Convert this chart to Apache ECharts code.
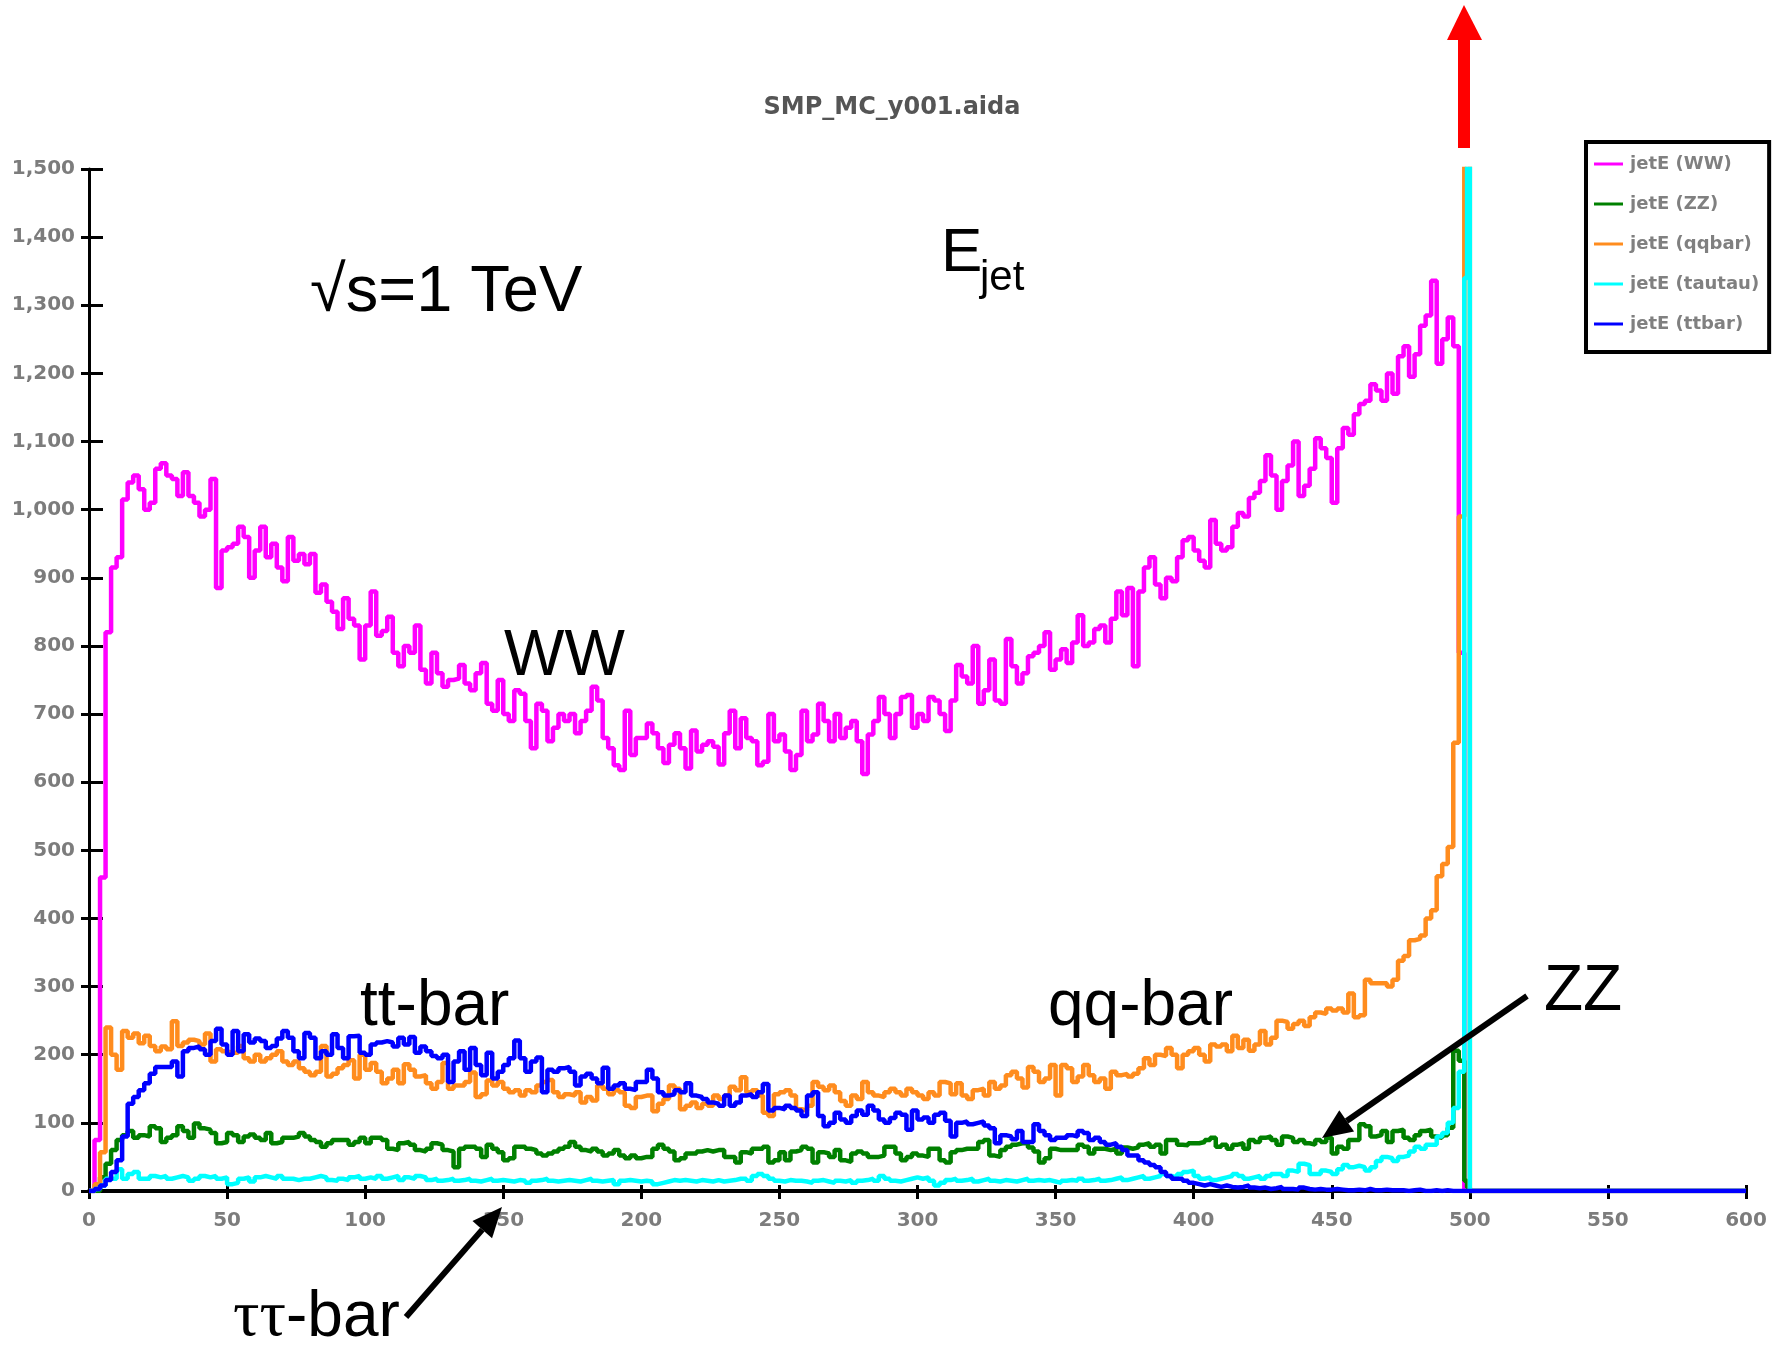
<!DOCTYPE html>
<html><head><meta charset="utf-8">
<script src="https://cdn.jsdelivr.net/npm/echarts@6/dist/echarts.min.js"></script>
<style>html,body{margin:0;padding:0;background:#fff}#c{width:1783px;height:1349px}</style>
</head><body><div id="c"></div>
<script>
// Bin left edges (GeV): 2 GeV bins 0..498, then 1 GeV bins 498,499; histogram closes at 500
const binEdges = Array.from({length: 250}, (_, i) => 2 * i).concat([499]);
const seriesNames = ['jetE (WW)', 'jetE (ZZ)', 'jetE (qqbar)', 'jetE (tautau)', 'jetE (ttbar)'];
const seriesColors = ['#FF00FF', '#008000', '#FF8C1E', '#00FFFF', '#0000FF'];
const xTicks = [0, 50, 100, 150, 200, 250, 300, 350, 400, 450, 500, 550, 600];
const yTicks = [0, 100, 200, 300, 400, 500, 600, 700, 800, 900, 1000, 1100, 1200, 1300, 1400, 1500];

const wwCounts = [
  0, 75, 460, 820, 915, 930, 1015, 1040, 1050, 1030,
  1000, 1010, 1060, 1068, 1050, 1045, 1020, 1055, 1020, 1010,
  990, 1000, 1045, 885, 940, 945, 950, 975, 960, 900,
  940, 975, 930, 950, 915, 895, 960, 925, 935, 920,
  935, 878, 890, 865, 850, 825, 870, 840, 830, 780,
  830, 880, 815, 822, 843, 790, 770, 800, 790, 830,
  765, 745, 790, 760, 740, 750, 752, 772, 745, 735,
  760, 775, 715, 705, 750, 700, 690, 735, 730, 690,
  650, 715, 705, 660, 680, 700, 690, 700, 672, 690,
  705, 740, 720, 665, 650, 625, 618, 705, 640, 665,
  665, 686, 672, 650, 628, 655, 672, 650, 620, 676,
  645, 655, 660, 652, 626, 672, 705, 650, 694, 665,
  660, 625, 630, 700, 660, 670, 645, 618, 640, 705,
  660, 670, 715, 690, 660, 700, 665, 680, 690, 660,
  612, 670, 690, 725, 700, 665, 700, 725, 728, 680,
  700, 690, 725, 720, 700, 675, 720, 772, 755, 745,
  800, 715, 735, 780, 720, 715, 810, 770, 745, 760,
  785, 790, 800, 820, 765, 780, 795, 775, 805, 845,
  800, 805, 825, 830, 805, 840, 880, 845, 885, 770,
  880, 915, 930, 890, 870, 900, 895, 930, 955, 960,
  940, 925, 915, 985, 950, 940, 945, 975, 995, 990,
  1017, 1025, 1042, 1080, 1050, 1000, 1042, 1065, 1100, 1020,
  1035, 1060, 1105, 1090, 1076, 1010, 1090, 1120, 1110, 1140,
  1155, 1160, 1184, 1175, 1160, 1200, 1170, 1225, 1240, 1195,
  1228, 1270, 1285, 1336, 1214, 1250, 1282, 1240, 790, 0, 0
];
const zzCounts = [
  0, 0, 20, 40, 60, 75, 82, 88, 78, 82,
  80, 95, 92, 72, 78, 82, 95, 88, 78, 99,
  92, 90, 85, 70, 72, 85, 82, 72, 80, 83,
  78, 75, 85, 70, 72, 78, 78, 80, 85, 80,
  75, 72, 65, 70, 75, 75, 75, 68, 72, 78,
  70, 78, 78, 75, 62, 60, 70, 72, 68, 60,
  58, 62, 70, 68, 60, 58, 35, 62, 65, 65,
  62, 50, 68, 62, 57, 45, 48, 65, 65, 62,
  60, 55, 52, 55, 58, 62, 65, 72, 65, 60,
  58, 62, 58, 52, 55, 60, 52, 48, 52, 48,
  50, 50, 62, 68, 62, 58, 45, 48, 55, 55,
  58, 60, 58, 60, 60, 50, 50, 42, 57, 55,
  62, 62, 65, 42, 45, 57, 45, 58, 60, 65,
  62, 42, 57, 55, 50, 60, 45, 43, 55, 58,
  55, 50, 50, 52, 65, 65, 55, 45, 50, 55,
  52, 50, 62, 62, 45, 42, 57, 60, 62, 62,
  62, 72, 75, 52, 50, 60, 65, 68, 70, 70,
  64, 58, 42, 48, 62, 60, 60, 60, 60, 68,
  65, 55, 62, 62, 60, 62, 55, 64, 62, 64,
  68, 70, 65, 68, 55, 75, 75, 68, 67, 70,
  70, 72, 75, 78, 65, 68, 62, 68, 70, 62,
  75, 72, 78, 80, 75, 68, 80, 78, 72, 75,
  70, 68, 75, 72, 78, 55, 65, 62, 75, 75,
  98, 95, 80, 82, 88, 72, 88, 90, 78, 75,
  82, 88, 90, 80, 78, 82, 93, 206, 191, 15, 5
];
const qqCounts = [
  0, 10, 57, 240, 200, 178, 235, 225, 231, 217,
  228, 213, 205, 212, 208, 249, 213, 218, 222, 220,
  215, 231, 190, 208, 205, 203, 203, 213, 195, 190,
  200, 190, 195, 200, 205, 190, 185, 190, 180, 175,
  170, 175, 213, 168, 172, 180, 185, 192, 165, 200,
  178, 188, 175, 158, 165, 178, 158, 186, 178, 168,
  170, 158, 150, 160, 188, 150, 155, 155, 160, 174,
  138, 142, 162, 155, 160, 150, 145, 148, 140, 148,
  145, 155, 160, 163, 145, 138, 142, 140, 145, 130,
  138, 133, 155, 150, 142, 148, 145, 125, 122, 138,
  140, 140, 117, 128, 135, 155, 150, 120, 125, 130,
  122, 128, 125, 140, 135, 140, 153, 148, 167, 145,
  148, 140, 115, 110, 142, 145, 148, 140, 120, 118,
  125, 160, 153, 148, 155, 145, 132, 125, 140, 135,
  160, 145, 140, 138, 145, 150, 145, 140, 150, 145,
  140, 135, 145, 140, 160, 158, 142, 158, 140, 135,
  148, 150, 140, 160, 150, 155, 170, 175, 165, 152,
  182, 175, 160, 165, 185, 140, 185, 180, 160, 168,
  185, 170, 160, 165, 150, 175, 170, 172, 168, 172,
  180, 195, 185, 200, 198, 210, 200, 180, 200, 205,
  210, 200, 190, 215, 212, 215, 205, 228, 210, 222,
  206, 215, 235, 215, 225, 250, 248, 238, 245, 250,
  242, 255, 262, 260, 268, 265, 268, 262, 290, 255,
  258, 310, 305, 305, 305, 300, 310, 338, 345, 368,
  370, 375, 400, 412, 462, 480, 505, 658, 990, 2500, 2500
];
const tautauCounts = [
  0, 3, 8, 18, 18, 32, 18, 25, 28, 18,
  18, 22, 20, 22, 18, 20, 22, 20, 15, 18,
  22, 20, 22, 18, 20, 10, 12, 18, 20, 14,
  20, 22, 20, 18, 22, 18, 18, 16, 18, 18,
  20, 22, 20, 16, 15, 18, 16, 20, 22, 18,
  20, 18, 22, 18, 20, 22, 16, 20, 18, 22,
  20, 16, 18, 15, 16, 18, 15, 16, 18, 15,
  14, 16, 18, 15, 16, 15, 14, 16, 15, 12,
  15, 16, 18, 15, 14, 15, 16, 15, 14, 16,
  18, 15, 14, 15, 16, 10, 15, 16, 15, 14,
  15, 14, 10, 12, 14, 16, 15, 16, 15, 14,
  16, 15, 14, 16, 14, 15, 16, 18, 18, 15,
  22, 25, 22, 18, 15, 14, 16, 15, 15, 14,
  12, 15, 16, 14, 12, 15, 14, 16, 12, 15,
  16, 18, 15, 22, 18, 15, 14, 16, 18, 20,
  18, 20, 15, 8, 12, 16, 18, 15, 16, 18,
  14, 16, 18, 15, 14, 16, 15, 14, 16, 18,
  15, 16, 15, 16, 14, 12, 15, 16, 15, 18,
  15, 16, 18, 15, 16, 18, 20, 16, 18, 20,
  22, 18, 20, 22, 25, 22, 20, 25, 28, 30,
  22, 18, 20, 16, 18, 20, 22, 25, 22, 18,
  20, 22, 18, 22, 25, 25, 22, 30, 28, 40,
  38, 25, 25, 30, 28, 25, 32, 38, 35, 37,
  35, 30, 35, 44, 50, 48, 44, 50, 52, 58,
  65, 62, 68, 68, 80, 85, 100, 122, 175, 1340, 2500
];
const ttbarCounts = [
  0, 3, 8, 16, 28, 45, 80, 128, 138, 148,
  158, 172, 182, 182, 182, 190, 168, 205, 210, 212,
  208, 200, 220, 238, 215, 200, 235, 205, 230, 218,
  224, 220, 210, 213, 224, 235, 225, 205, 195, 232,
  225, 195, 205, 200, 230, 210, 195, 227, 228, 203,
  200, 215, 218, 220, 218, 212, 225, 215, 226, 203,
  212, 205, 198, 195, 200, 160, 190, 205, 178, 210,
  185, 170, 203, 165, 175, 185, 195, 221, 195, 175,
  190, 196, 145, 178, 175, 180, 182, 175, 155, 168,
  172, 165, 158, 181, 150, 155, 158, 150, 148, 160,
  160, 178, 165, 145, 140, 142, 148, 145, 158, 140,
  138, 135, 130, 128, 125, 140, 125, 130, 140, 142,
  138, 145, 157, 118, 122, 120, 125, 122, 118, 110,
  140, 145, 110, 95, 100, 115, 105, 100, 110, 118,
  112, 125, 118, 105, 100, 107, 115, 112, 90, 118,
  105, 108, 100, 112, 115, 103, 80, 100, 102, 98,
  100, 102, 96, 92, 70, 82, 80, 76, 88, 72,
  72, 98, 88, 82, 75, 78, 78, 82, 80, 88,
  85, 75, 78, 72, 68, 70, 65, 60, 52, 52,
  45, 42, 38, 35, 28, 22, 18, 18, 15, 12,
  10, 8, 10, 8, 6, 8, 6, 5, 6, 8,
  5, 4, 5, 3, 4, 6, 3, 3, 2, 5,
  3, 2, 3, 2, 2, 3, 2, 1, 1, 2,
  1, 3, 1, 1, 2, 1, 1, 1, 0, 1,
  2, 0, 0, 1, 0, 1, 0, 0, 0, 0, 0
];
const allCounts = [wwCounts, zzCounts, qqCounts, tautauCounts, ttbarCounts];

function histData(vals) {
  const d = vals.map((v, i) => [binEdges[i], v]);
  d.push([500, 0]);
  d.push([600, 0]);
  return d;
}

const labelFont = {fontFamily: 'DejaVu Sans', fontSize: 20, fontWeight: 'bold', color: '#7c7c7c'};
const annFont = '"Liberation Sans", Arial, sans-serif';

function arrow(x0, y0, x1, y1, color, w, hl, hw) {
  const dx = x1 - x0, dy = y1 - y0, L = Math.hypot(dx, dy);
  const ux = dx / L, uy = dy / L, nx = -uy, ny = ux;
  const bx = x1 - hl * ux, by = y1 - hl * uy;
  return [
    {type: 'line', shape: {x1: x0, y1: y0, x2: bx, y2: by}, style: {stroke: color, lineWidth: w}, z: 100},
    {type: 'polygon', shape: {points: [[x1, y1], [bx + hw * nx, by + hw * ny], [bx - hw * nx, by - hw * ny]]}, style: {fill: color}, z: 100}
  ];
}

const chart = echarts.init(document.getElementById('c'), null, {renderer: 'canvas'});
const fmt = v => v.toLocaleString('en-US');
chart.setOption({
  animation: false,
  backgroundColor: '#fff',
  title: {
    text: 'SMP_MC_y001.aida', left: 887, top: 91, textAlign: 'center',
    textStyle: {fontFamily: 'DejaVu Sans', fontSize: 24, fontWeight: 'bold', color: '#555'}
  },
  grid: {left: 89, right: 37, top: 169, bottom: 158, containLabel: false},
  legend: {
    orient: 'vertical', left: 1586, top: 142,
    data: seriesNames, icon: 'rect', itemWidth: 29, itemHeight: 3, itemGap: 10,
    textStyle: {fontFamily: 'DejaVu Sans', fontSize: 18, fontWeight: 'bold', color: '#808080', lineHeight: 20, padding: [10, 0, 0, 2]},
    borderColor: '#000', borderWidth: 4, padding: [7, 10, 13, 8], backgroundColor: '#fff'
  },
  xAxis: [
    {type: 'value', min: 0, max: 600, interval: 50, position: 'bottom',
     axisLine: {show: true, lineStyle: {color: '#000', width: 4}},
     axisTick: {show: true, length: 8, lineStyle: {color: '#000', width: 3}},
     axisLabel: Object.assign({margin: 20, formatter: v => String(v)}, labelFont),
     splitLine: {show: false}},
    {type: 'value', min: 0, max: 600, interval: 50, position: 'bottom',
     axisLine: {show: false}, axisLabel: {show: false}, splitLine: {show: false},
     axisTick: {show: true, inside: true, length: 6, lineStyle: {color: '#000', width: 3}}}
  ],
  yAxis: [
    {type: 'value', min: 0, max: 1500, interval: 100, position: 'left',
     axisLine: {show: true, lineStyle: {color: '#000', width: 3}},
     axisTick: {show: true, length: 8, lineStyle: {color: '#000', width: 3}},
     axisLabel: Object.assign({margin: 14, formatter: fmt}, labelFont),
     splitLine: {show: false}},
    {type: 'value', min: 0, max: 1500, interval: 100, position: 'left',
     axisLine: {show: false}, axisLabel: {show: false}, splitLine: {show: false},
     axisTick: {show: true, inside: true, length: 14, lineStyle: {color: '#000', width: 3}}}
  ],
  series: seriesNames.map((name, k) => ({
    name, type: 'line', step: 'end', xAxisIndex: 0, yAxisIndex: 0,
    data: histData(allCounts[k]), showSymbol: false, symbol: 'none', clip: true,
    lineStyle: {color: seriesColors[k], width: 4.5}, itemStyle: {color: seriesColors[k]},
    emphasis: {disabled: true}
  })),
  graphic: [
    {type: 'text', x: 310, y: 293, z: 100, style: {text: '√s=1 TeV', font: '65px ' + annFont, fill: '#000', textVerticalAlign: 'middle'}},
    {type: 'text', x: 941, y: 254, z: 100, style: {text: 'E', font: '62px ' + annFont, fill: '#000', textVerticalAlign: 'middle'}},
    {type: 'text', x: 980, y: 278, z: 100, style: {text: 'jet', font: '42px ' + annFont, fill: '#000', textVerticalAlign: 'middle'}},
    {type: 'text', x: 504, y: 657, z: 100, style: {text: 'WW', font: '64px ' + annFont, fill: '#000', textVerticalAlign: 'middle'}},
    {type: 'text', x: 360, y: 1007, z: 100, style: {text: 'tt-bar', font: '64px ' + annFont, fill: '#000', textVerticalAlign: 'middle'}},
    {type: 'text', x: 1048, y: 1007, z: 100, style: {text: 'qq-bar', font: '64px ' + annFont, fill: '#000', textVerticalAlign: 'middle'}},
    {type: 'text', x: 1544, y: 992, z: 100, style: {text: 'ZZ', font: '64px ' + annFont, fill: '#000', textVerticalAlign: 'middle'}},
    {type: 'text', x: 233, y: 1318, z: 100, style: {
      text: '{g|ττ}{t|-bar}', textVerticalAlign: 'middle',
      rich: {g: {font: '66px "Liberation Serif", "DejaVu Serif", serif', fill: '#000'}, t: {font: '64px ' + annFont, fill: '#000'}}
    }},
    ...arrow(1527, 996, 1322, 1138, '#000', 6, 30, 13),
    ...arrow(406, 1317, 502, 1207, '#000', 6, 30, 13),
    {type: 'rect', shape: {x: 1458, y: 38, width: 12, height: 110}, style: {fill: '#FF0000'}, z: 100},
    {type: 'polygon', shape: {points: [[1464, 5], [1447, 40], [1482, 40]]}, style: {fill: '#FF0000'}, z: 100}
  ]
});
</script></body></html>
